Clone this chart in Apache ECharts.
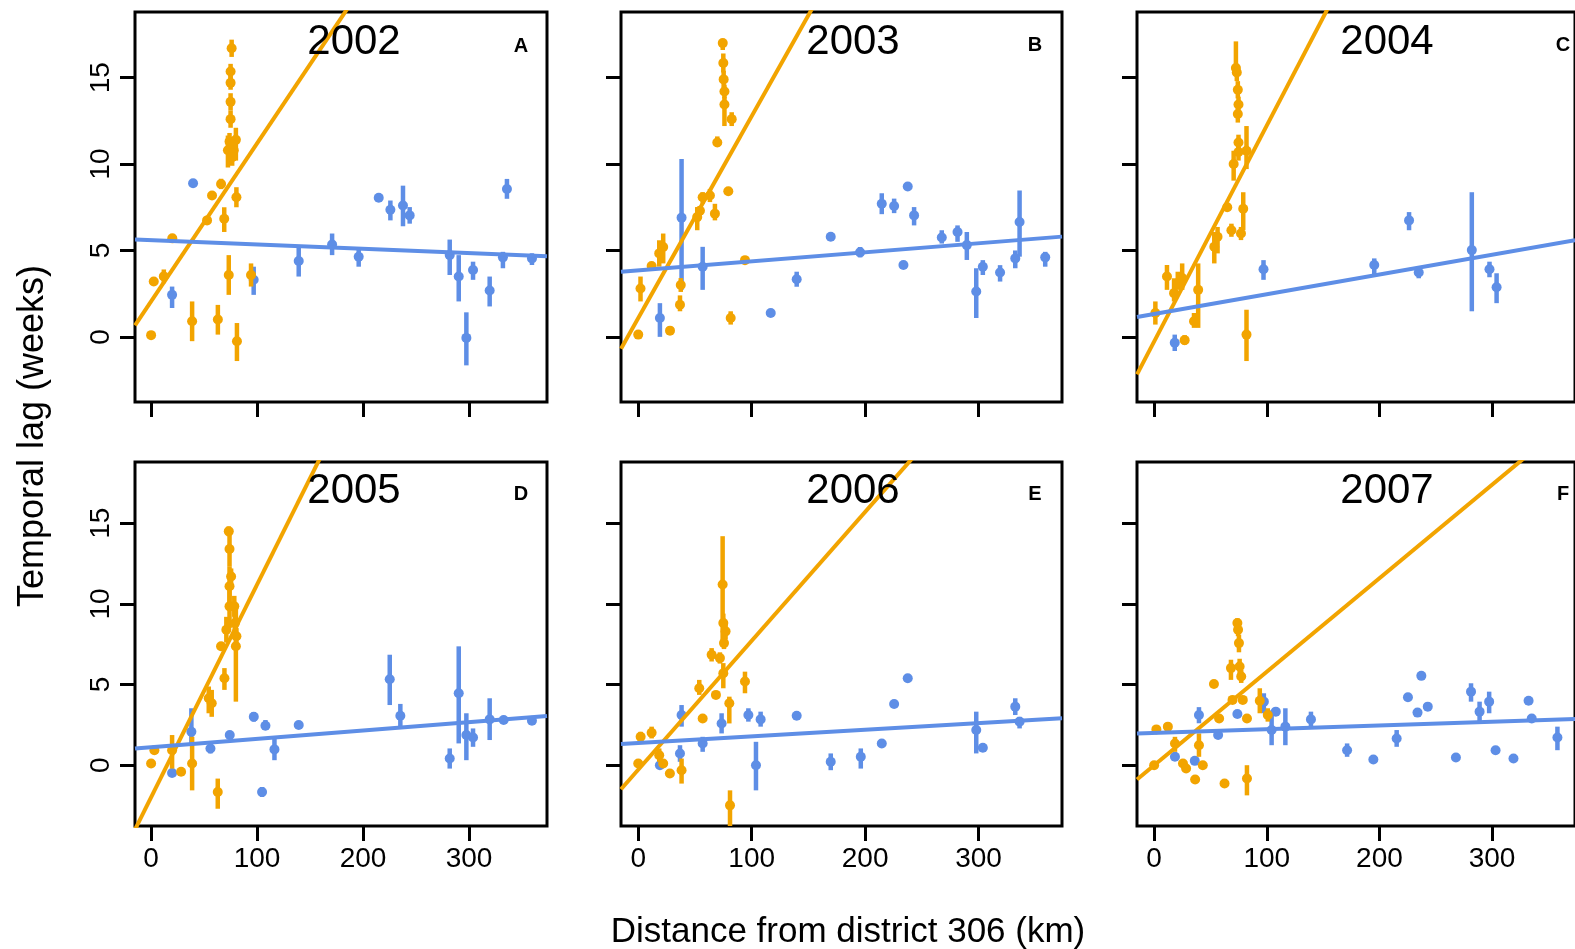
<!DOCTYPE html>
<html>
<head>
<meta charset="utf-8">
<script src="https://cdn.jsdelivr.net/npm/echarts@6/dist/echarts.min.js"></script>
<style>
  html, body { margin: 0; padding: 0; background: #fff; }
  #chart { width: 1575px; height: 949px; }
</style>
</head>
<body>
<div id="chart"></div>
<script>
// Panel titles and tick values
const years = ['2002', '2003', '2004', '2005', '2006', '2007'];
const panelLetters = ['A', 'B', 'C', 'D', 'E', 'F'];
const xTicks = [0, 100, 200, 300];
const yTicks = [0, 5, 10, 15];

// Each row: [distance (km), temporal lag (weeks), lower bound, upper bound]
// Rows with only two values have no visible interval.
const orange2002 = [
  [0, 0.1], [2.5, 3.2, 3.0, 3.4], [12, 3.5, 3.1, 3.9], [20, 5.7], [38.7, 0.9, -0.25, 2.05],
  [52.8, 6.74, 6.5, 7.0], [57.5, 8.18], [66, 8.85, 8.55, 9.15], [63, 1.0, 0.13, 1.85],
  [69, 6.84, 6.07, 7.5], [73.3, 3.58, 2.43, 4.73], [76, 16.7, 16.2, 17.2], [75, 15.36, 14.9, 15.8],
  [75, 14.7, 14.3, 15.1], [75, 13.6, 13.1, 14.1], [75, 12.6, 12.1, 13.1], [74, 11.3, 10.8, 11.8],
  [72.5, 10.8, 9.8, 11.65], [80, 11.4, 10.2, 12.1], [78, 10.8, 10.2, 11.4], [76.5, 10.4, 9.9, 10.9],
  [80.5, 8.08, 7.5, 8.66], [81, -0.25, -1.4, 0.8], [94.3, 3.58, 2.91, 4.25]
];
const blue2002 = [
  [39.6, 8.89], [19.8, 2.43, 1.67, 2.91], [96.8, 3.3, 2.43, 4.06], [139.3, 4.39, 3.49, 5.31],
  [170.8, 5.34, 4.73, 5.98], [195.9, 4.64, 4.06, 5.11], [214.8, 8.05], [225.8, 7.36, 6.74, 7.89],
  [237.7, 7.6, 6.4, 8.75], [244, 7.03, 6.55, 7.51], [281.8, 4.73, 3.58, 5.63], [290.3, 3.49, 2.05, 4.73],
  [297.5, -0.06, -1.65, 1.42], [303.8, 3.87, 3.3, 4.35], [319.5, 2.68, 1.76, 3.49], [332, 4.6, 3.97, 4.92],
  [335.8, 8.56, 7.99, 9.14], [359.4, 4.54, 4.16, 4.83]
];
const orange2003 = [
  [0, 0.13], [2, 2.8, 2.05, 3.49], [11.8, 4.1, 3.95, 4.25], [18.5, 4.83, 4.06, 5.59], [22, 5.2, 4.25, 5.98],
  [28, 0.36, 0.15, 0.6], [36.8, 1.86, 1.48, 2.4], [37.5, 3.0, 2.6, 3.4], [52, 6.93, 6.17, 7.51],
  [54.4, 7.3, 7.1, 7.5], [56.8, 8.08, 7.7, 8.37], [63.2, 8.18, 7.8, 8.56], [67.6, 7.13, 6.74, 7.7],
  [69.7, 11.25, 11.0, 11.6], [74.5, 17.0, 16.6, 17.18], [75, 15.85, 15.3, 16.4], [75.3, 14.9, 14.4, 15.4],
  [76, 14.2, 13.8, 14.6], [76, 13.45, 12.2, 13.9], [82.4, 12.6, 12.2, 13.0], [79.4, 8.43],
  [81.5, 1.09, 0.71, 1.48], [94.1, 4.44, 4.3, 4.6]
];
const blue2003 = [
  [19.1, 1.09, 0.0, 1.95], [38.2, 6.9, 2.72, 10.29], [56.8, 4.06, 2.72, 5.21], [116.8, 1.38],
  [139.7, 3.33, 2.9, 3.77], [169.7, 5.79], [195.6, 4.89, 4.6, 5.2], [214.7, 7.7, 7.1, 8.31],
  [225.6, 7.57, 7.16, 8.0], [233.8, 4.16], [237.6, 8.7], [243.2, 7.03, 6.45, 7.51],
  [267.6, 5.75, 5.4, 6.17], [281.5, 6.07, 5.5, 6.45], [289.7, 5.31, 4.45, 6.07], [298, 2.62, 1.09, 3.97],
  [303.8, 4.06, 3.58, 4.44], [319, 3.72, 3.2, 4.15], [332.4, 4.54, 3.97, 5.0], [336.2, 6.65, 4.64, 8.47],
  [358.8, 4.6, 4.06, 4.92]
];
const orange2004 = [
  [1.1, 1.38, 0.71, 2.05], [11.4, 3.49, 2.72, 4.16], [17.7, 2.53, 2.05, 3.39], [21, 3.1, 2.72, 3.77],
  [24.9, 3.4, 2.72, 4.25], [27.1, -0.19, -0.45, 0.1], [35.4, 0.9, 0.52, 1.38], [39.1, 2.72, 0.52, 4.25],
  [53.4, 5.21, 4.25, 6.07], [56.3, 5.79, 4.83, 6.36], [64.9, 7.5], [68.6, 6.17, 5.79, 6.55],
  [77.1, 5.98, 5.6, 6.36], [79.1, 7.41, 6.17, 8.37], [70.6, 10.0, 9.04, 10.77], [72.6, 15.56, 15.2, 17.1],
  [73.4, 15.3, 14.8, 15.8], [74.3, 14.3, 13.8, 14.8], [74.9, 13.45, 13.0, 13.9], [74.3, 12.9, 12.4, 13.4],
  [74.9, 11.25, 10.8, 11.7], [74.9, 10.7, 10.2, 11.2], [82, 10.77, 9.71, 12.2], [82, 0.13, -1.4, 1.57]
];
const blue2004 = [
  [18.3, -0.34, -0.82, 0.13], [97.1, 3.91, 3.3, 4.44], [195.4, 4.16, 3.58, 4.54], [226.3, 6.74, 6.17, 7.22],
  [234.9, 3.72, 3.39, 4.06], [282, 5.02, 1.48, 8.37], [297.7, 3.91, 3.45, 4.35], [304, 2.87, 1.95, 3.68]
];
const orange2005 = [
  [0, 0.1], [3.1, 0.93, 0.8, 1.05], [19.8, 0.93, -0.21, 1.87], [28.3, -0.41], [38.7, 0.1, -1.56, 1.76],
  [54.4, 4.15, 3.22, 4.88], [57.2, 3.84, 3.0, 4.67], [62.9, -1.66, -2.7, -0.83], [66, 7.37, 7.2, 7.55],
  [69.2, 5.39, 4.67, 6.02], [73.3, 14.5, 14.2, 14.8], [74, 13.4, 12.3, 14.5], [74, 11.1, 10.0, 12.3],
  [75.5, 11.7, 11.2, 12.2], [71, 8.4, 7.6, 9.2], [74, 9.85, 8.5, 11.0], [80, 7.37, 3.94, 10.06],
  [79, 8.8, 8.0, 9.6], [78.5, 9.85, 9.2, 10.5], [80.5, 8.0, 7.5, 8.5]
];
const blue2005 = [
  [19.8, -0.48], [38, 2.07, 1.35, 3.53], [56, 1.04, 0.73, 1.35], [74.2, 1.87], [96.9, 3.0, 2.7, 3.3],
  [104.7, -1.66, -1.97, -1.35], [107.9, 2.45, 2.18, 2.8], [116.4, 0.98, 0.31, 1.66], [139.3, 2.49],
  [225.2, 5.33, 3.73, 6.85], [235.2, 3.07, 2.28, 3.8], [281.8, 0.41, -0.21, 1.04], [290.3, 4.46, 1.35, 7.37],
  [297.5, 1.87, 0.31, 3.22], [303.8, 1.72, 1.14, 2.28], [319.5, 2.84, 1.56, 4.15], [332.7, 2.8],
  [359.4, 2.76, 2.6, 2.9]
];
const orange2006 = [
  [0, 0.1], [2.1, 1.76, 1.35, 2.07], [11.8, 2.01, 1.66, 2.39], [18.5, 0.62, 0.21, 1.04], [22, 0.1],
  [27.9, -0.52], [38.2, -0.31, -1.14, 0.41], [53.8, 4.77, 4.36, 5.29], [56.8, 2.9], [64.7, 6.85, 6.43, 7.26],
  [68.5, 4.36, 4.2, 4.5], [72, 6.64, 6.3, 7.0], [74.4, 11.2, 7.37, 14.2], [75, 8.82, 8.3, 9.4],
  [77, 8.3, 7.8, 8.8], [75.6, 7.57, 7.2, 8.0], [75, 5.7, 4.77, 6.33], [80.3, 3.84, 2.59, 4.25],
  [80.9, -2.49, -3.77, -1.56], [94.1, 5.19, 4.46, 5.8]
];
const blue2006 = [
  [19.1, 0, -0.2, 0.2], [36.8, 0.73, 0.21, 1.24], [38.2, 3.11, 2.39, 3.73], [56.8, 1.35, 0.83, 1.76],
  [73.5, 2.59, 1.97, 3.22], [97.1, 3.11, 2.7, 3.53], [107.9, 2.84, 2.39, 3.32], [103.8, 0, -1.56, 1.45],
  [139.7, 3.07, 2.9, 3.2], [169.7, 0.21, -0.31, 0.73], [196.2, 0.52, -0.21, 1.04], [214.7, 1.35],
  [225.6, 3.8], [237.6, 5.39], [298, 2.18, 0.73, 3.32], [303.8, 1.08], [332.4, 3.63, 3.11, 4.15],
  [336.2, 2.7, 2.28, 3.0]
];
const orange2007 = [
  [0, 0], [2, 2.22], [12.2, 2.39], [18.5, 1.35, 0.83, 1.76], [25.6, 0.1], [28.4, -0.2], [36.4, -0.89],
  [39.8, 1.24, 0.52, 1.97], [43.2, 0], [53.1, 5.04], [57.7, 2.9], [62.5, -1.14], [68.2, 6.02, 5.29, 6.54],
  [69.6, 4.05], [73.9, 8.82, 8.4, 9.1], [74.5, 8.4, 8.0, 8.8], [75.3, 7.57, 7.0, 8.1], [75.9, 6.12, 5.6, 6.6],
  [77.3, 5.5, 5.1, 5.9], [78.7, 4.05], [82.4, 2.9], [82.4, -0.83, -1.87, 0], [93.8, 4.0, 3.22, 4.77],
  [100.9, 3.11, 2.7, 3.53]
];
const blue2007 = [
  [18.5, 0.52], [36.1, 0.27], [39.8, 3.11, 2.6, 3.6], [56.8, 1.87], [73.9, 3.17], [97.4, 3.94, 3.22, 4.46],
  [104.3, 2.18, 1.24, 3.4], [108, 3.32], [116.5, 2.39, 1.24, 3.53], [139.2, 2.84, 2.39, 3.32],
  [171.3, 0.93, 0.52, 1.35], [194.6, 0.35], [215.3, 1.66, 1.14, 2.18], [225.3, 4.21], [233.8, 3.26],
  [237.2, 5.54], [242.9, 3.63], [267.9, 0.48], [281.3, 4.56, 3.94, 5.08], [288.9, 3.32, 2.7, 3.94],
  [297.4, 3.94, 3.22, 4.56], [303.1, 0.93], [319, 0.41], [332.4, 4.0], [335.2, 2.9], [358, 1.72, 0.93, 2.39]
];

// Fitted regression lines: lag = intercept + slope * distance
const orangeIntercept = [2.06, 1.09, -0.27, -1.99, -0.28, -0.01];
const orangeSlope = [0.0914, 0.1168, 0.125, 0.1319, 0.0799, 0.058];
const blueIntercept = [5.59, 3.85, 1.32, 1.12, 1.37, 2.0];
const blueSlope = [-0.00247, 0.00522, 0.01142, 0.00518, 0.00411, 0.00233];

const orangeSets = [orange2002, orange2003, orange2004, orange2005, orange2006, orange2007];
const blueSets = [blue2002, blue2003, blue2004, blue2005, blue2006, blue2007];

const ORANGE = '#F2A400';
const BLUE = '#5E8EE6';
const FONT = "'Liberation Sans', Arial, Helvetica, sans-serif";
const X_MIN = -15.2, X_MAX = 373.6, Y_MIN = -3.77, Y_MAX = 18.8;

// Panel boxes in pixels (left, top, width, height)
const boxes = [
  [135, 12, 412, 390], [621, 12, 441, 390], [1137, 12, 454, 390],
  [135, 462, 412, 364], [621, 462, 441, 364], [1137, 462, 454, 364]
];
const yearPos = [[354, 42], [853, 42], [1387, 42], [354, 491], [853, 491], [1387, 491]];
const letterPos = [[521, 46], [1035, 45], [1563, 45], [521, 494], [1035, 494], [1563, 494]];

const withBounds = rows => rows.map(r => r.length > 2 ? r : [r[0], r[1], r[1], r[1]]);

function barRenderer(color) {
  return function (params, api) {
    const x = api.value(0), y = api.value(1), lo = api.value(2), hi = api.value(3);
    const p = api.coord([x, y]);
    const a = api.coord([x, lo]);
    const b = api.coord([x, hi]);
    const children = [];
    if (Math.abs(a[1] - b[1]) > 1) {
      children.push({
        type: 'line',
        shape: { x1: a[0], y1: a[1], x2: b[0], y2: b[1] },
        style: { stroke: color, lineWidth: 4.5 }
      });
    }
    children.push({ type: 'circle', shape: { cx: p[0], cy: p[1], r: 5 }, style: { fill: color } });
    return { type: 'group', children };
  };
}

const grid = [], xAxis = [], yAxis = [], series = [], graphic = [];

boxes.forEach((bx, i) => {
  grid.push({
    left: bx[0], top: bx[1], width: bx[2], height: bx[3],
    show: true, borderColor: '#000', borderWidth: 3, backgroundColor: 'transparent'
  });
  xAxis.push({
    type: 'value', gridIndex: i, min: X_MIN, max: X_MAX, position: 'bottom',
    axisLine: { show: false, onZero: false }, splitLine: { show: false },
    axisTick: { show: true, length: 15, lineStyle: { color: '#000', width: 3 }, customValues: xTicks },
    axisLabel: { show: i >= 3, customValues: xTicks, fontSize: 28, color: '#000', margin: 19, fontFamily: FONT }
  });
  yAxis.push({
    type: 'value', gridIndex: i, min: Y_MIN, max: Y_MAX, position: 'left',
    axisLine: { show: false, onZero: false }, splitLine: { show: false },
    axisTick: { show: true, length: 15, lineStyle: { color: '#000', width: 3 }, customValues: yTicks },
    axisLabel: { show: i % 3 === 0, customValues: yTicks, rotate: 90, fontSize: 28, color: '#000', margin: 20, fontFamily: FONT }
  });

  series.push({
    type: 'custom', xAxisIndex: i, yAxisIndex: i, clip: true,
    renderItem: barRenderer(BLUE), encode: { x: 0, y: 1 }, data: withBounds(blueSets[i]), z: 2
  });
  series.push({
    type: 'custom', xAxisIndex: i, yAxisIndex: i, clip: true,
    renderItem: barRenderer(ORANGE), encode: { x: 0, y: 1 }, data: withBounds(orangeSets[i]), z: 3
  });
  series.push({
    type: 'line', xAxisIndex: i, yAxisIndex: i, showSymbol: false, clip: true, silent: true,
    lineStyle: { color: ORANGE, width: 4 }, z: 4,
    data: [[X_MIN, orangeIntercept[i] + orangeSlope[i] * X_MIN], [X_MAX, orangeIntercept[i] + orangeSlope[i] * X_MAX]]
  });
  series.push({
    type: 'line', xAxisIndex: i, yAxisIndex: i, showSymbol: false, clip: true, silent: true,
    lineStyle: { color: BLUE, width: 4 }, z: 5,
    data: [[X_MIN, blueIntercept[i] + blueSlope[i] * X_MIN], [X_MAX, blueIntercept[i] + blueSlope[i] * X_MAX]]
  });

  graphic.push({
    type: 'text', x: yearPos[i][0], y: yearPos[i][1], z: 100,
    style: { text: years[i], font: '42px ' + FONT, fill: '#000', textAlign: 'center', textVerticalAlign: 'middle' }
  });
  graphic.push({
    type: 'text', x: letterPos[i][0], y: letterPos[i][1], z: 100,
    style: { text: panelLetters[i], font: 'bold 20px ' + FONT, fill: '#000', textAlign: 'center', textVerticalAlign: 'middle' }
  });
});

graphic.push({
  type: 'text', x: 33, y: 436, rotation: Math.PI / 2, z: 100,
  style: { text: 'Temporal lag (weeks)', font: '36px ' + FONT, fill: '#000', textAlign: 'center', textVerticalAlign: 'middle' }
});
graphic.push({
  type: 'text', x: 848, y: 932, z: 100,
  style: { text: 'Distance from district 306 (km)', font: '35px ' + FONT, fill: '#000', textAlign: 'center', textVerticalAlign: 'middle' }
});

const chart = echarts.init(document.getElementById('chart'), null, { renderer: 'canvas' });
chart.setOption({
  animation: false,
  backgroundColor: '#fff',
  grid, xAxis, yAxis, series, graphic
});
</script>
</body>
</html>
